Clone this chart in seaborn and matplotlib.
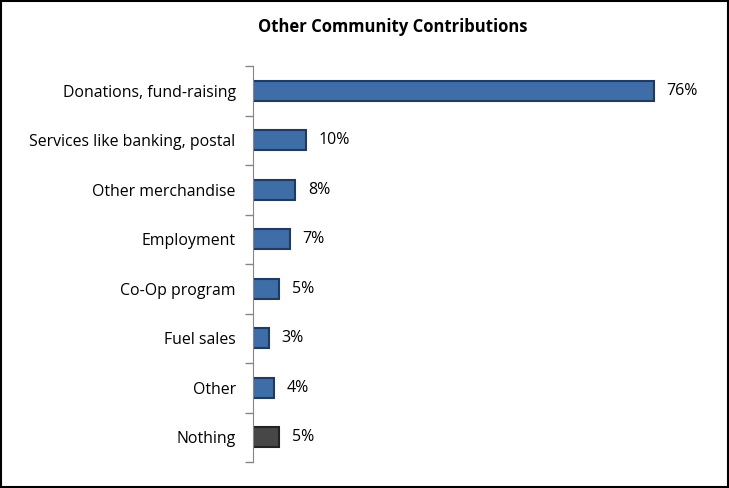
import matplotlib
matplotlib.use("Agg")
import matplotlib.pyplot as plt
import seaborn as sns
import pandas as pd

categories = ["Donations, fund-raising", "Services like banking, postal", "Other merchandise",
              "Employment", "Co-Op program", "Fuel sales", "Other", "Nothing"]
values = [76, 10, 8, 7, 5, 3, 4, 5]
bar_colors = ["#3F6DA8"] * 7 + ["#474747"]
edge_colors = ["#203B60"] * 7 + ["#222222"]

df = pd.DataFrame({"category": categories, "value": values})

sns.set_style("white")
plt.rcParams['font.family'] = ['Open Sans', 'DejaVu Sans']
plt.rcParams['text.color'] = 'black'
plt.rcParams['ytick.labelcolor'] = 'black'

fig = plt.figure(figsize=(7.29, 4.88), dpi=100)
ax = fig.add_axes([253 / 729, 1 - 462 / 488, 422 / 729, 396 / 488])

sns.barplot(data=df, y="category", x="value", hue="category", palette=bar_colors,
            legend=False, orient="h", width=0.4, ax=ax, saturation=1)
for patch, ec in zip(ax.patches, edge_colors):
    patch.set_edgecolor(ec)
    patch.set_linewidth(1.5)

for i, v in enumerate(values):
    ax.text(v + 2.4, i, f"{v}%", va="center", ha="left", fontsize=11.5, color="black")

ax.set_xlim(0, 80)
ax.set_ylim(7.5, -0.5)
ax.set_xticks([])
ax.set_xlabel("")
ax.set_ylabel("")
ax.set_yticks([i - 0.5 for i in range(len(categories) + 1)], minor=False)
ax.set_yticklabels([])
ax.set_yticks(range(len(categories)), minor=True)
ax.set_yticklabels(categories, minor=True, fontsize=11.4, color="black")
ax.tick_params(axis="y", which="major", length=6, width=1, color="#868686", left=True)
ax.tick_params(axis="y", which="minor", length=0, pad=12.5)
for s in ["top", "right", "bottom"]:
    ax.spines[s].set_visible(False)
ax.spines["left"].set_color("#868686")

fig.text(393 / 729, 1 - 27 / 488, "Other Community Contributions", ha="center", va="center",
         fontsize=12, fontweight="bold", color="black")

fig.patches.append(plt.Rectangle((0.001, 0.002), 0.997, 0.996, transform=fig.transFigure,
                                 fill=False, edgecolor="black", linewidth=1.5))

fig.savefig("out.png", dpi=100)
